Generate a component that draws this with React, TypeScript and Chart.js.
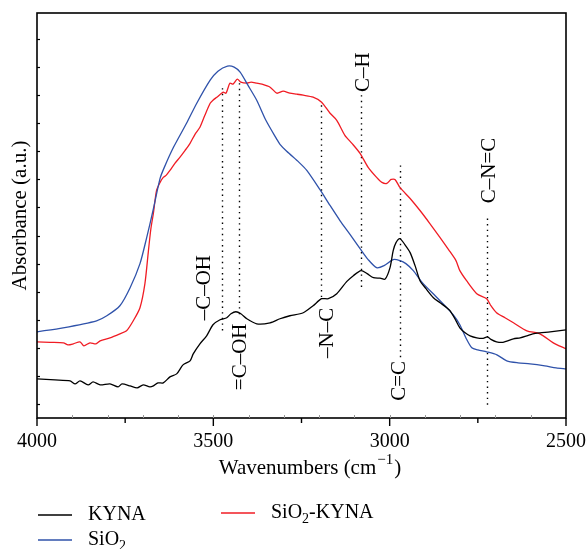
import { useEffect, useRef } from "react";
import { Chart, registerables } from "chart.js";

Chart.register(...registerables);

// ---- Data (absorbance in arbitrary units) ----
const kynaWave = [4000, 3949, 3906, 3892, 3878, 3855, 3841, 3821, 3793, 3770, 3759, 3736, 3716, 3699, 3680, 3670, 3657, 3642, 3623, 3604, 3586, 3566, 3557, 3538, 3519, 3501, 3481, 3462, 3450, 3436, 3422, 3405, 3377, 3339, 3311, 3283, 3245, 3217, 3193, 3174, 3150, 3122, 3103, 3081, 3064, 3046, 3027, 3013, 2999, 2990, 2982, 2971, 2957, 2942, 2928, 2914, 2897, 2876, 2857, 2838, 2829, 2815, 2801, 2786, 2772, 2753, 2735, 2723, 2713, 2697, 2679, 2649, 2630, 2611, 2594, 2574, 2545, 2500];
const kynaAbs = [39, 38, 37, 34, 37, 33, 36, 33, 34, 31, 34, 32, 30, 33, 31, 32, 35, 35, 41, 44, 53, 57, 64, 74, 82, 93, 98, 100, 104, 106, 104, 99, 94, 95, 99, 102, 105, 112, 119, 119, 124, 136, 142, 147, 144, 140, 139.5, 138.5, 150, 167, 175, 179, 173, 165, 152, 137, 129, 120, 115, 110, 107, 99, 90, 85, 82, 80, 79.5, 81, 78.5, 76, 75.5, 79, 80, 82, 84, 85, 86, 88];

const sio2Wave = [4000, 3926, 3831, 3802, 3765, 3736, 3708, 3689, 3671, 3651, 3639, 3613, 3576, 3547, 3509, 3487, 3460, 3441, 3424, 3402, 3377, 3351, 3320, 3311, 3292, 3257, 3235, 3198, 3169, 3141, 3112, 3084, 3061, 3037, 3016, 2990, 2971, 2954, 2933, 2905, 2871, 2838, 2820, 2801, 2784, 2767, 2750, 2725, 2696, 2668, 2636, 2602, 2560, 2528, 2500];
const sio2Abs = [86, 90, 97, 102, 112, 130, 154, 180, 207, 239, 250, 270, 294, 314, 337, 346, 351, 350, 345, 332, 317, 297, 278, 273, 266, 255, 247, 228, 212, 197, 183, 169, 158, 150, 152, 158, 157, 154, 147, 134, 122, 110, 103, 93, 80, 70, 68, 66, 63, 57, 55, 54, 52, 50, 49];

const compWave = [4000, 3963, 3925, 3912, 3897, 3878, 3867, 3850, 3833, 3821, 3793, 3765, 3746, 3727, 3708, 3694, 3684, 3677, 3670, 3661, 3651, 3642, 3634, 3623, 3609, 3595, 3580, 3566, 3552, 3538, 3524, 3509, 3501, 3490, 3472, 3464, 3453, 3444, 3432, 3422, 3405, 3393, 3377, 3362, 3339, 3320, 3302, 3283, 3263, 3245, 3217, 3193, 3169, 3150, 3127, 3107, 3084, 3061, 3037, 3022, 3008, 2996, 2985, 2971, 2942, 2914, 2886, 2857, 2833, 2812, 2801, 2782, 2753, 2725, 2713, 2697, 2673, 2649, 2611, 2574, 2536, 2500];
const compAbs = [76, 75.5, 75, 73, 74, 76, 72, 75, 74, 77, 80, 84, 87, 97, 110, 134, 167, 189, 204, 227, 235, 240, 242, 247, 254, 260, 267, 274, 283, 290, 302, 314, 317, 320, 325, 324, 334, 333, 338, 335, 334, 335, 334, 333, 330, 324, 326, 324, 323, 322, 320, 315, 304, 297, 282, 274, 264, 250, 240, 235, 234, 238, 238, 230, 219, 207, 194, 180, 168, 157, 147, 137, 124, 119, 112, 105, 100, 95, 87, 84, 75, 69];

// Band assignments (dotted markers)
const bandNames = ["–C–OH", "=C–OH", "–N–C", "C–H", "C=C", "C–N=C"];
const bandWave = [3475, 3427, 3195, 3081, 2972, 2723];
const bandTop = [329, 334, 312, 322, 252, 199];
const bandBottom = [87, 100, 120, 129, 60, 12];
const labelWave = [3524, 3423, 3176, 3074, 2971, 2717];
const labelAbs = [130, 61, 85, 345, 37, 247];

const xTicks = [4000, 3500, 3000, 2500];

const FONT = "'Liberation Serif', 'Times New Roman', serif";
const C_KYNA = "#000000";
const C_SIO2 = "#2f52aa";
const C_COMP = "#f01c24";

function pts(w: number[], a: number[]) {
  return w.map((x, i) => ({ x, y: a[i] }));
}

function drawSub(ctx: CanvasRenderingContext2D, parts: [string, boolean][], x: number, y: number, size: number) {
  let cx = x;
  for (const [t, sub] of parts) {
    ctx.font = `${sub ? Math.round(size * 0.68) : size}px ${FONT}`;
    ctx.fillText(t, cx, sub ? y + size * 0.3 : y);
    cx += ctx.measureText(t).width;
  }
}

const overlay = {
  id: "overlay",
  beforeDatasetsDraw(chart: any) {
    const { ctx, scales } = chart;
    const x = scales.x, y = scales.y;
    ctx.save();
    ctx.strokeStyle = "#000";
    ctx.lineWidth = 1.4;
    ctx.setLineDash([1.4, 4.2]);
    for (let i = 0; i < bandWave.length; i++) {
      const px = Math.round(x.getPixelForValue(bandWave[i])) + 0.5;
      ctx.beginPath();
      ctx.moveTo(px, y.getPixelForValue(bandTop[i]));
      ctx.lineTo(px, y.getPixelForValue(bandBottom[i]));
      ctx.stroke();
    }
    ctx.restore();
  },
  afterDraw(chart: any) {
    const { ctx, chartArea: ca, scales } = chart;
    const x = scales.x, y = scales.y;
    ctx.save();
    // frame
    ctx.strokeStyle = "#000";
    ctx.lineWidth = 1.6;
    ctx.strokeRect(ca.left, ca.top, ca.right - ca.left, ca.bottom - ca.top);
    // x ticks
    ctx.lineWidth = 1.4;
    for (let w = 2500; w <= 4000; w += 250) {
      const px = x.getPixelForValue(w);
      const len = w % 500 === 0 ? 8 : 5;
      ctx.beginPath();
      ctx.moveTo(px, ca.bottom);
      ctx.lineTo(px, ca.bottom + len);
      ctx.stroke();
    }
    ctx.strokeStyle = "#999";
    ctx.lineWidth = 1;
    for (let w = 2600; w < 4000; w += 100) {
      const px = Math.round(x.getPixelForValue(w)) + 0.5;
      ctx.beginPath();
      ctx.moveTo(px, ca.bottom);
      ctx.lineTo(px, ca.bottom - 3);
      ctx.stroke();
    }
    // y ticks (inward)
    ctx.strokeStyle = "#000";
    ctx.lineWidth = 1.2;
    for (let v = 14; v < 404; v += 28) {
      const py = Math.round(y.getPixelForValue(v)) + 0.5;
      ctx.beginPath();
      ctx.moveTo(ca.left, py);
      ctx.lineTo(ca.left + 3, py);
      ctx.stroke();
    }
    // band labels (rotated)
    ctx.fillStyle = "#000";
    ctx.font = `21px ${FONT}`;
    ctx.textAlign = "center";
    ctx.textBaseline = "middle";
    for (let i = 0; i < bandNames.length; i++) {
      ctx.save();
      ctx.translate(x.getPixelForValue(labelWave[i]), y.getPixelForValue(labelAbs[i]));
      ctx.rotate(-Math.PI / 2);
      ctx.fillText(bandNames[i], 0, 0);
      ctx.restore();
    }
    // y title
    ctx.save();
    ctx.translate(20, (ca.top + ca.bottom) / 2);
    ctx.rotate(-Math.PI / 2);
    ctx.font = `21px ${FONT}`;
    ctx.fillText("Absorbance (a.u.)", 0, 0);
    ctx.restore();
    // x title with superscript
    ctx.textAlign = "left";
    const main = "Wavenumbers (cm";
    const sup = "−1";
    const close = ")";
    ctx.font = `21px ${FONT}`;
    const w1 = ctx.measureText(main).width;
    const w3 = ctx.measureText(close).width;
    ctx.font = `15px ${FONT}`;
    const w2 = ctx.measureText(sup).width;
    const total = w1 + w2 + w3 + 2;
    let sx = 310 - total / 2;
    const ty = 468;
    ctx.font = `21px ${FONT}`;
    ctx.fillText(main, sx, ty);
    sx += w1 + 1;
    ctx.font = `15px ${FONT}`;
    ctx.fillText(sup, sx, ty - 8);
    sx += w2 + 1;
    ctx.font = `21px ${FONT}`;
    ctx.fillText(close, sx, ty);
    // legend
    const items: { color: string; parts: [string, boolean][]; x: number; y: number }[] = [
      { color: C_KYNA, parts: [["KYNA", false]], x: 38, y: 515 },
      { color: C_COMP, parts: [["SiO", false], ["2", true], ["-KYNA", false]], x: 221, y: 513 },
      { color: C_SIO2, parts: [["SiO", false], ["2", true]], x: 38, y: 540 },
    ];
    for (const it of items) {
      ctx.strokeStyle = it.color;
      ctx.lineWidth = 1.5;
      ctx.beginPath();
      ctx.moveTo(it.x, it.y);
      ctx.lineTo(it.x + 34, it.y);
      ctx.stroke();
      ctx.fillStyle = "#000";
      drawSub(ctx, it.parts, it.x + 50, it.y, 20);
    }
    ctx.restore();
  },
};

export default function App() {
  const ref = useRef<HTMLCanvasElement | null>(null);
  useEffect(() => {
    if (!ref.current) return;
    const mk = (label: string, w: number[], a: number[], color: string) => ({
      label,
      data: pts(w, a),
      borderColor: color,
      backgroundColor: color,
      borderWidth: 1.3,
      pointRadius: 0,
      showLine: true,
      fill: false,
      tension: 0.25,
    });
    const chart = new Chart(ref.current, {
      type: "scatter",
      data: {
        datasets: [
          mk("KYNA", kynaWave, kynaAbs, C_KYNA),
          mk("SiO2", sio2Wave, sio2Abs, C_SIO2),
          mk("SiO2-KYNA", compWave, compAbs, C_COMP),
        ],
      },
      options: {
        animation: false,
        responsive: false,
        events: [],
        layout: { padding: { left: 37, right: 20, top: 13, bottom: 0 } },
        plugins: { legend: { display: false }, tooltip: { enabled: false } },
        scales: {
          x: {
            type: "linear",
            min: 2500,
            max: 4000,
            reverse: true,
            afterFit: (s: any) => {
              s.height = 131;
              s.paddingLeft = 0;
              s.paddingRight = 0;
            },
            afterBuildTicks: (s: any) => {
              s.ticks = xTicks.map((v) => ({ value: v }));
            },
            grid: { display: false, drawTicks: false },
            border: { display: false },
            ticks: {
              padding: 12,
              color: "#000",
              font: { family: FONT, size: 20 },
              maxRotation: 0,
              callback: (v: any) => String(v),
            },
          },
          y: {
            type: "linear",
            min: 0,
            max: 404,
            display: false,
          },
        },
      },
      plugins: [overlay],
    });
    return () => chart.destroy();
  }, []);
  return (
    <div style={{ position: "absolute", left: 0, top: 0, width: 586, height: 549, background: "#fff" }}>
      <canvas ref={ref} width={586} height={549} />
    </div>
  );
}
